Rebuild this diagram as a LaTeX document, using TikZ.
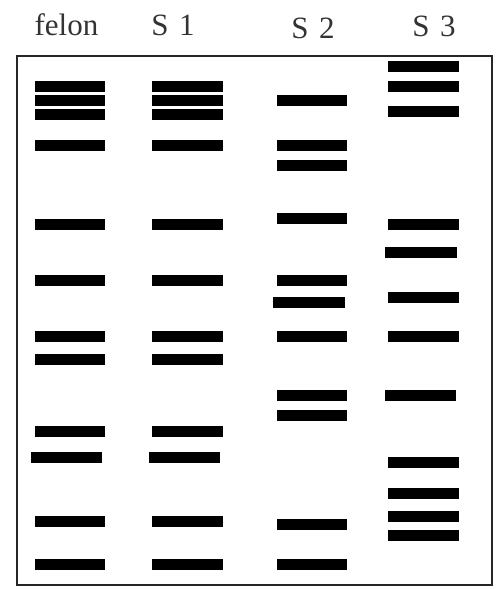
\documentclass[tikz,border=0pt]{standalone}
\usepackage{fontspec}
\setmainfont{Liberation Serif}
\begin{document}
\begin{tikzpicture}[x=1pt,y=-1pt,
  band/.style={fill=black},
  frame/.style={draw=black!85,line width=2.2pt},
  lbl/.style={anchor=base,inner sep=0pt,font=\fontsize{31}{32}\selectfont,text=black!80}]
\useasboundingbox (0,0) rectangle (499,589);
\draw[frame] (17,56) rectangle (492,585);
\node[lbl] (felon) at (66.5,35) {felon};
\node[lbl] (s1) at (173,35) {S\,\,1};
\node[lbl] (s2) at (313,38) {S\,\,2};
\node[lbl] (s3) at (434,36) {S\,\,3};
% lane 1 and lane 2 (identical patterns)
\foreach \y in {86,100,114.5,145,224,280,336,359,431,521,564}{
  \fill[band] (35,\y-5.5) rectangle (105,\y+5.5);
  \fill[band] (152,\y-5.5) rectangle (223,\y+5.5);
}
\fill[band] (31,457-5.5) rectangle (102,457+5.5);
\fill[band] (149,457-5.5) rectangle (220,457+5.5);
% lane 3
\foreach \y in {100,145,165,218,280,336,395,415,524,564}{
  \fill[band] (277,\y-5.5) rectangle (347,\y+5.5);
}
\fill[band] (273,302-5.5) rectangle (345,302+5.5);
% lane 4
\foreach \y in {66,86,111.5,224,297,336,462,493,516,535.5}{
  \fill[band] (388,\y-5.5) rectangle (459,\y+5.5);
}
\fill[band] (385,252-5.5) rectangle (457,252+5.5);
\fill[band] (385,395-5.5) rectangle (456,395+5.5);
\end{tikzpicture}
\end{document}
